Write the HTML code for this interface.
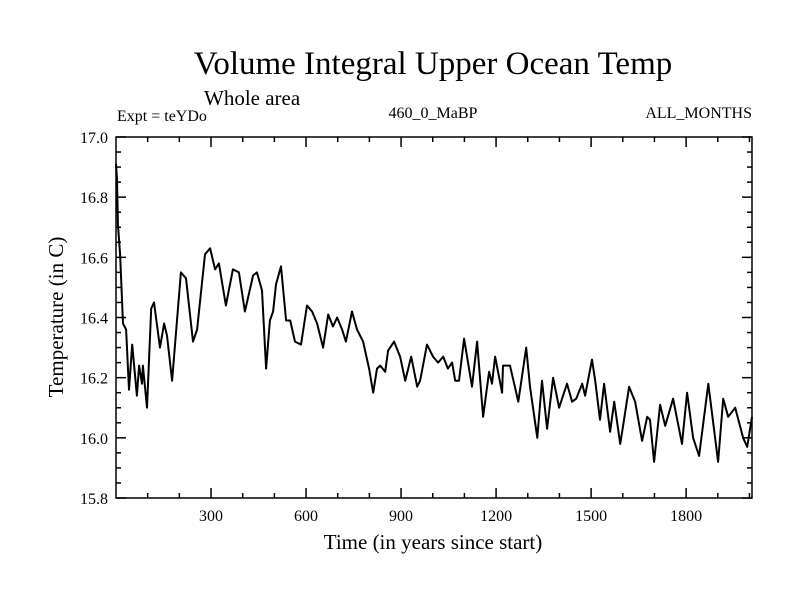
<!DOCTYPE html>
<html><head><meta charset="utf-8"><style>
body{margin:0;background:#fff}
svg text{font-family:"Liberation Serif",serif;fill:#000}
</style></head><body>
<svg id="chart" width="800" height="600" xmlns="http://www.w3.org/2000/svg">
<rect width="800" height="600" fill="#fff"/>
<text x="433" y="74" font-size="33" text-anchor="middle">Volume Integral Upper Ocean Temp</text>
<text x="204" y="105" font-size="21">Whole area</text>
<text x="117" y="121" font-size="16">Expt = teYDo</text>
<text x="433" y="118" font-size="16" text-anchor="middle">460_0_MaBP</text>
<text x="752" y="118" font-size="16" text-anchor="end">ALL_MONTHS</text>
<text x="433" y="549" font-size="21" text-anchor="middle">Time (in years since start)</text>
<text transform="translate(63,317) rotate(-90)" font-size="21" text-anchor="middle">Temperature (in C)</text>
<g id="axes"></g>
<path id="line" fill="none" stroke="#000" stroke-width="2" stroke-linejoin="round"/>
<rect x="116" y="137" width="636" height="361" fill="none" stroke="#000" stroke-width="1.5"/>
</svg>
<script>
const years=[0,3,6,13,22,32,41,51,66,73,82,85,98,111,120,139,152,161,177,205,221,243,256,281,297,313,325,347,369,388,407,433,445,461,474,486,496,505,521,537,550,565,584,603,619,635,654,670,685,698,714,726,745,761,780,799,812,824,834,850,859,878,897,913,932,951,960,982,1001,1017,1033,1048,1061,1071,1083,1099,1124,1140,1159,1178,1187,1197,1219,1222,1244,1270,1295,1307,1330,1345,1361,1380,1399,1424,1440,1453,1472,1481,1503,1513,1528,1541,1560,1573,1592,1601,1620,1639,1661,1677,1686,1699,1718,1734,1759,1787,1803,1822,1841,1870,1901,1917,1933,1955,1980,1993,2008];
const temps=[16.91,16.86,16.71,16.61,16.38,16.36,16.16,16.31,16.14,16.24,16.18,16.24,16.10,16.43,16.45,16.30,16.38,16.34,16.19,16.55,16.53,16.32,16.36,16.61,16.63,16.56,16.58,16.44,16.56,16.55,16.42,16.54,16.55,16.49,16.23,16.39,16.42,16.51,16.57,16.39,16.39,16.32,16.31,16.44,16.42,16.38,16.30,16.41,16.37,16.40,16.36,16.32,16.42,16.36,16.32,16.23,16.15,16.23,16.24,16.22,16.29,16.32,16.27,16.19,16.27,16.17,16.19,16.31,16.27,16.25,16.27,16.23,16.25,16.19,16.19,16.33,16.17,16.32,16.07,16.22,16.18,16.27,16.15,16.24,16.24,16.12,16.30,16.17,16.00,16.19,16.03,16.20,16.10,16.18,16.12,16.13,16.18,16.14,16.26,16.19,16.06,16.18,16.02,16.12,15.98,16.04,16.17,16.12,15.99,16.07,16.06,15.92,16.11,16.04,16.13,15.98,16.15,16.00,15.94,16.18,15.92,16.13,16.07,16.10,16.00,15.97,16.07];
const xTicks=[300,600,900,1200,1500,1800];
const yTicks=[15.8,16.0,16.2,16.4,16.6,16.8,17.0];
const X0=116,X1=752,Y0=498,Y1=137,XMIN=0,XMAX=2008,YMIN=15.8,YMAX=17.0;
const sx=v=>X0+(v-XMIN)/(XMAX-XMIN)*(X1-X0);
const sy=v=>Y0-(v-YMIN)/(YMAX-YMIN)*(Y0-Y1);
const ns="http://www.w3.org/2000/svg";
const axes=document.getElementById('axes');
function ln(x1,y1,x2,y2,name){const l=document.createElementNS(ns,'line');l.setAttribute('x1',x1);l.setAttribute('y1',y1);l.setAttribute('x2',x2);l.setAttribute('y2',y2);l.setAttribute('stroke','#000');l.setAttribute('stroke-width','1.5');


axes.appendChild(l);}
function tx(x,y,s,anchor,name){const t=document.createElementNS(ns,'text');t.setAttribute('x',x);t.setAttribute('y',y);t.setAttribute('font-size','16');t.setAttribute('text-anchor',anchor);t.textContent=s;


axes.appendChild(t);}
for(let v=100;v<XMAX;v+=100){const x=sx(v);const major=v%300===0;const L=major?10:5;ln(x,Y0,x,Y0-L,'x-tick');ln(x,Y1,x,Y1+L,'x-tick-top');}
xTicks.forEach(v=>tx(sx(v),521,String(v),'middle','x-tick-label'));
for(let i=0;i<=24;i++){const v=YMIN+i*0.05;const y=sy(v);const major=i%4===0;const L=major?10:5;ln(X0,y,X0+L,y,'y-tick');ln(X1,y,X1-L,y,'y-tick-right');}
yTicks.forEach(v=>tx(108,sy(v)+6,v.toFixed(1),'end','y-tick-label'));
let d='';years.forEach((y,i)=>{d+=(i?'L':'M')+sx(y).toFixed(1)+','+sy(temps[i]).toFixed(1);});
document.getElementById('line').setAttribute('d',d);
</script>
</body></html>
